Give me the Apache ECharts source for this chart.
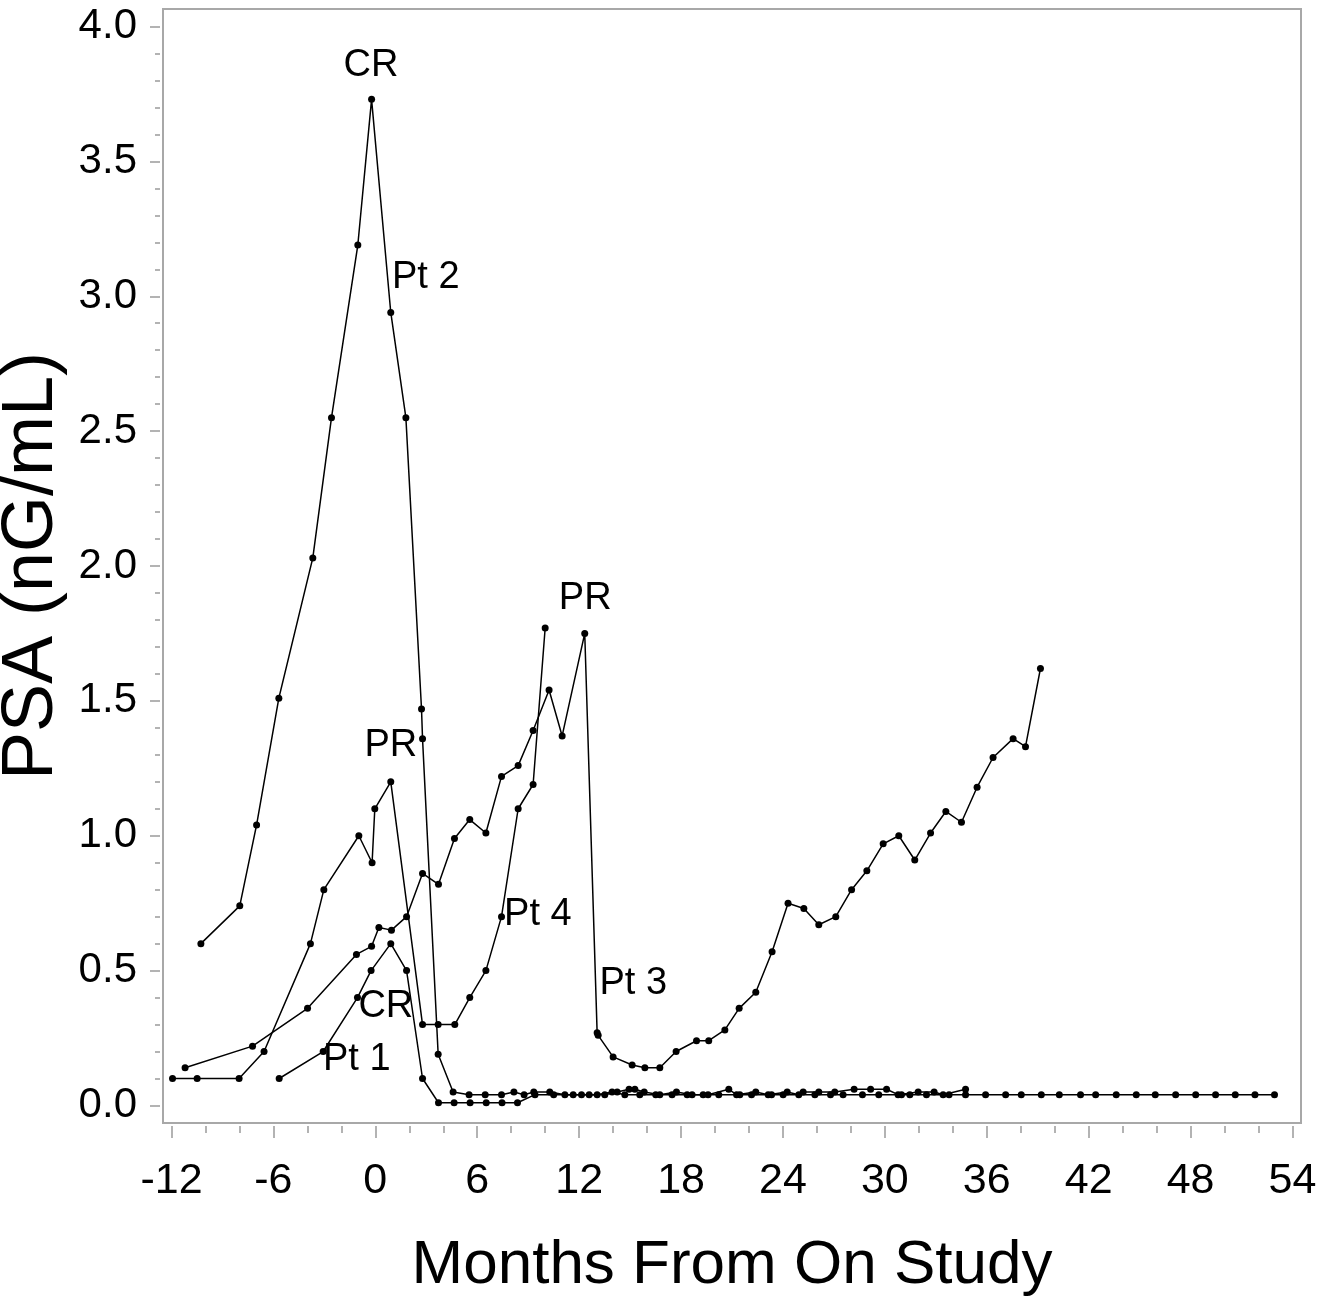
<!DOCTYPE html>
<html>
<head>
<meta charset="utf-8">
<script src="https://cdn.jsdelivr.net/npm/echarts@6/dist/echarts.min.js"></script>
<style>
    html, body { margin: 0; padding: 0; background: #fff; }
    #chart { width: 1338px; height: 1307px; }
</style>
</head>
<body>
<div id="chart"></div>
<script>
    // PSA per patient, months from on study
    var pt1Months = [-5.66, -3.07, -1.05, -0.25, 0.91, 1.84, 2.78, 3.72, 4.64, 5.58, 6.53, 7.46, 8.37, 9.40, 10.50,
        11.65, 12.59, 13.51, 14.24, 14.94, 15.28, 15.83, 16.75, 17.73, 18.65, 19.59, 20.81, 21.27, 22.40, 23.13,
        24.25, 24.93, 25.19, 26.11, 27.05, 28.19, 29.16, 30.10, 30.78, 31.96, 32.90, 33.43, 34.75]
    var pt1Psa = [0.10, 0.20, 0.40, 0.50, 0.60, 0.50, 0.10, 0.01, 0.01, 0.01, 0.01, 0.01, 0.01, 0.04, 0.04,
        0.04, 0.04, 0.04, 0.05, 0.06, 0.06, 0.05, 0.04, 0.05, 0.04, 0.04, 0.06, 0.04, 0.05, 0.04,
        0.05, 0.04, 0.05, 0.05, 0.05, 0.06, 0.06, 0.06, 0.04, 0.05, 0.05, 0.04, 0.06]

    var pt2Months = [-10.27, -7.98, -6.99, -5.68, -3.68, -2.58, -1.03, -0.22, 0.91, 1.80, 2.72, 2.78, 3.70, 4.58,
        5.52, 6.47, 7.43, 8.16, 8.76, 9.33, 10.27, 11.16, 12.14, 13.06, 13.94, 14.69, 15.57, 16.51, 17.47, 18.36,
        19.30, 20.22, 21.46, 22.15, 23.33, 24.01, 25.88, 26.80, 27.54, 28.68, 29.64, 30.98, 31.47, 32.45, 33.78,
        34.75, 35.93, 37.11, 38.03, 39.21, 40.27, 41.52, 42.41, 43.62, 44.80, 45.92, 47.12, 48.30, 49.47, 50.63,
        51.79, 52.94]
    var pt2Psa = [0.60, 0.74, 1.04, 1.51, 2.03, 2.55, 3.19, 3.73, 2.94, 2.55, 1.47, 1.36, 0.19, 0.05,
        0.04, 0.04, 0.04, 0.05, 0.04, 0.05, 0.05, 0.04, 0.04, 0.04, 0.05, 0.04, 0.04, 0.04, 0.04, 0.04,
        0.04, 0.04, 0.04, 0.04, 0.04, 0.04, 0.04, 0.04, 0.04, 0.04, 0.04, 0.04, 0.04, 0.04, 0.04,
        0.04, 0.04, 0.04, 0.04, 0.04, 0.04, 0.04, 0.04, 0.04, 0.04, 0.04, 0.04, 0.04, 0.04, 0.04,
        0.04, 0.04]

    var pt3Months = [-11.20, -7.23, -3.99, -1.11, -0.22, 0.21, 0.95, 1.84, 2.78, 3.72, 4.66, 5.56, 6.51, 7.43,
        8.41, 9.29, 10.23, 11.00, 12.33, 13.06, 13.12, 14.00, 15.12, 15.87, 16.75, 17.71, 18.91, 19.63, 20.58,
        21.42, 22.40, 23.36, 24.30, 25.23, 26.11, 27.11, 28.04, 28.94, 29.90, 30.82, 31.76, 32.69, 33.59, 34.51,
        35.43, 36.37, 37.55, 38.28, 39.16]
    var pt3Psa = [0.14, 0.22, 0.36, 0.56, 0.59, 0.66, 0.65, 0.70, 0.86, 0.82, 0.99, 1.06, 1.01, 1.22,
        1.26, 1.39, 1.54, 1.37, 1.75, 0.27, 0.26, 0.18, 0.15, 0.14, 0.14, 0.20, 0.24, 0.24, 0.28,
        0.36, 0.42, 0.57, 0.75, 0.73, 0.67, 0.70, 0.80, 0.87, 0.97, 1.00, 0.91, 1.01, 1.09, 1.05,
        1.18, 1.29, 1.36, 1.33, 1.62]

    var pt4Months = [-11.94, -10.49, -8.02, -6.55, -3.82, -3.03, -0.97, -0.19, -0.03, 0.91, 2.78, 3.70, 4.68,
        5.56, 6.51, 7.43, 8.41, 9.29, 10.00]
    var pt4Psa = [0.10, 0.10, 0.10, 0.20, 0.60, 0.80, 1.00, 0.90, 1.10, 1.20, 0.30, 0.30, 0.30,
        0.40, 0.50, 0.70, 1.10, 1.19, 1.77]

    // text notes on the plot (centre of text, in data units)
    var noteText = ['CR', 'Pt 2', 'PR', 'PR', 'Pt 4', 'Pt 3', 'CR', 'Pt 1']
    var noteMonth = [-0.26, 2.97, 0.91, 12.36, 9.57, 15.19, 0.62, -1.09]
    var notePsa = [3.854, 3.07, 1.333, 1.881, 0.707, 0.452, 0.365, 0.17]

    var xTicks = [-12, -6, 0, 6, 12, 18, 24, 30, 36, 42, 48, 54]
    var yTicks = [0, 0.5, 1.0, 1.5, 2.0, 2.5, 3.0, 3.5, 4.0]

    var xMinor = []
    for (var i = -12; i <= 54; i += 2) {
        if (i % 6 !== 0) xMinor.push(i)
    }
    var yMinor = []
    for (var j = 1; j < 40; j++) {
        if (j % 5 !== 0) yMinor.push(j / 10)
    }

    function zip (xs, ys) {
        return xs.map(function (x, k) { return [x, ys[k]] })
    }

    var font = '"Liberation Sans", Arial, sans-serif'
    var tickColor = '#9a9a9a'

    function lineSeries (name, xs, ys) {
        return {
            name: name,
            type: 'line',
            data: zip(xs, ys),
            symbol: 'circle',
            symbolSize: 7,
            showAllSymbol: true,
            lineStyle: {color: '#000', width: 1.5},
            itemStyle: {color: '#000'},
            emphasis: {disabled: true},
            z: 3
        }
    }

    function xAxisOf (ticks, len, label) {
        return {
            type: 'value',
            min: -12.5,
            max: 54.5,
            position: 'bottom',
            offset: 3,
            axisLine: {show: false, onZero: false},
            splitLine: {show: false},
            axisTick: {show: true, customValues: ticks, length: len, lineStyle: {color: tickColor, width: 1.5}},
            axisLabel: label ? {
                customValues: ticks,
                fontSize: 43,
                fontFamily: font,
                color: '#000',
                margin: 34
            } : {show: false}
        }
    }

    function yAxisOf (ticks, len, label) {
        return {
            type: 'value',
            min: -0.065,
            max: 4.065,
            position: 'left',
            offset: 3,
            axisLine: {show: false, onZero: false},
            splitLine: {show: false},
            axisTick: {show: true, customValues: ticks, length: len, lineStyle: {color: tickColor, width: 1.5}},
            axisLabel: label ? {
                customValues: ticks,
                fontSize: 42,
                fontFamily: font,
                color: '#000',
                margin: 23,
                formatter: function (v) { return v.toFixed(1) }
            } : {show: false}
        }
    }

    var xMain = xAxisOf(xTicks, 12, true)
    xMain.name = 'Months From On Study'
    xMain.nameLocation = 'middle'
    xMain.nameGap = 109
    xMain.nameTextStyle = {fontSize: 62, fontFamily: font, color: '#000'}

    var yMain = yAxisOf(yTicks, 10, true)
    yMain.name = 'PSA (nG/mL)'
    yMain.nameLocation = 'middle'
    yMain.nameGap = 78
    yMain.nameTextStyle = {fontSize: 72, fontFamily: font, color: '#000'}

    var myChart = echarts.init(document.getElementById('chart'))
    var option = {
        animation: false,
        backgroundColor: '#fff',
        grid: {
            left: 163,
            top: 9,
            right: 37,
            bottom: 184,
            outerBoundsMode: 'none',
            show: true,
            borderColor: '#a8a8a8',
            borderWidth: 2,
            backgroundColor: '#fff'
        },
        xAxis: [xMain, xAxisOf(xMinor, 7, false)],
        yAxis: [yMain, yAxisOf(yMinor, 5, false)],
        series: [
            lineSeries('Pt 1', pt1Months, pt1Psa),
            lineSeries('Pt 2', pt2Months, pt2Psa),
            lineSeries('Pt 3', pt3Months, pt3Psa),
            lineSeries('Pt 4', pt4Months, pt4Psa),
            {
                type: 'custom',
                silent: true,
                data: noteText.map(function (t, k) { return [noteMonth[k], notePsa[k]] }),
                renderItem: function (params, api) {
                    var p = api.coord([api.value(0), api.value(1)])
                    return {
                        type: 'text',
                        x: p[0],
                        y: p[1],
                        style: {
                            text: noteText[params.dataIndex],
                            fontSize: 38,
                            fontFamily: font,
                            fill: '#000',
                            align: 'center',
                            verticalAlign: 'middle'
                        }
                    }
                },
                z: 4
            }
        ]
    }
    myChart.setOption(option)
</script>
</body>
</html>
